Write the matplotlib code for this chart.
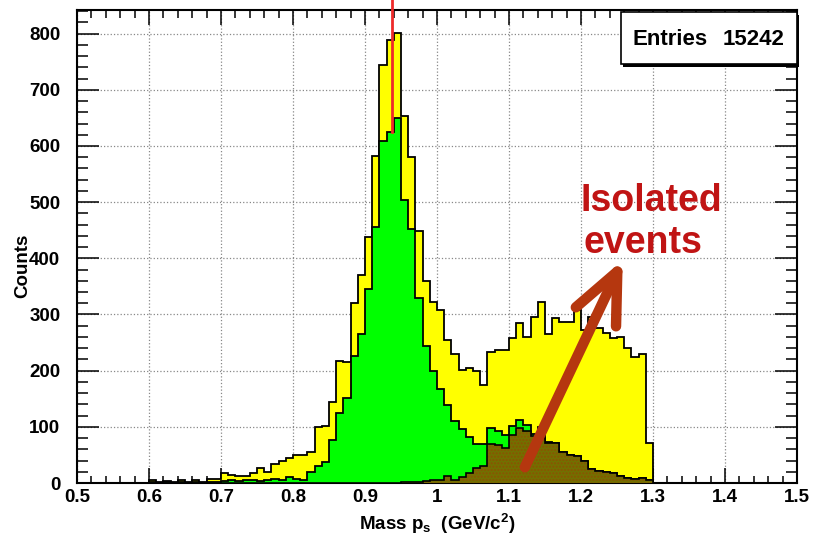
import matplotlib.pyplot as plt
import numpy as np
from matplotlib.patches import Rectangle
from matplotlib.ticker import MultipleLocator, FuncFormatter

plt.rcParams['font.family'] = ['Liberation Sans', 'DejaVu Sans']
plt.rcParams['font.weight'] = 'bold'
plt.rcParams['mathtext.fontset'] = 'custom'
plt.rcParams['mathtext.rm'] = 'Liberation Sans:bold'
plt.rcParams['mathtext.it'] = 'Liberation Sans:bold'
plt.rcParams['mathtext.bf'] = 'Liberation Sans:bold'

############   DATA   #############
# 0.01 GeV bins from 0.60 to 1.30 (everything outside is empty)
first_edge = 0.60
bin_width = 0.01

# all events
counts_all = [5, 2, 4, 2, 5, 1, 5, 2, 8, 8,
              17, 15, 12, 12, 18, 27, 19, 34, 40, 45,
              50, 49, 56, 100, 101, 144, 217, 215, 321, 370,
              438, 582, 744, 788, 802, 654, 580, 449, 359, 323,
              308, 255, 229, 201, 205, 199, 175, 234, 236, 237,
              258, 284, 260, 295, 322, 266, 294, 286, 287, 308,
              272, 296, 276, 267, 258, 260, 241, 224, 230, 71]

# selected events
counts_sel = [1, 0, 1, 0, 1, 0, 1, 0, 2, 2,
              3, 6, 4, 5, 5, 3, 6, 7, 6, 10,
              8, 6, 19, 30, 37, 76, 124, 152, 226, 266,
              346, 456, 609, 625, 649, 504, 453, 330, 244, 200,
              167, 138, 111, 96, 82, 70, 70, 98, 92, 85,
              102, 113, 104, 88, 100, 73, 71, 55, 49, 48,
              39, 25, 21, 19, 17, 13, 9, 7, 9, 5]

# isolated events
counts_iso = [0, 0, 0, 0, 0, 0, 0, 0, 0, 0,
              0, 0, 0, 0, 0, 0, 0, 0, 0, 0,
              0, 0, 0, 0, 0, 0, 0, 0, 0, 0,
              0, 0, 0, 0, 0, 1, 1, 2, 3, 5,
              6, 12, 6, 10, 18, 26, 30, 70, 68, 63,
              86, 98, 92, 84, 80, 71, 71, 55, 49, 48,
              39, 25, 21, 19, 17, 13, 9, 7, 9, 5]

proton_mass = 0.938
n_entries = 15242

edges = np.round(first_edge + bin_width * np.arange(len(counts_all) + 1), 2)

#--- figure ---
fig = plt.figure(figsize=(8.13, 5.39), dpi=100)
ax = fig.add_axes([77 / 813, 1 - 483 / 539, 720 / 813, 473 / 539])

ax.stairs(counts_all, edges, fill=True, color='#ffff00', zorder=2)
ax.stairs(counts_all, edges, color='black', lw=1.3, zorder=3)
ax.stairs(counts_sel, edges, fill=True, color='#00ff00', zorder=4)
ax.stairs(counts_sel, edges, color='black', lw=1.3, zorder=5)
ax.stairs(counts_iso, edges, fill=True, facecolor='#727000', edgecolor='#8c5200',
          hatch='.....', lw=0, zorder=6)
ax.stairs(counts_iso, edges, color='black', lw=1.2, zorder=7)

# proton mass marker, from the top of the selected peak up through the frame
ymax = 1.05 * max(counts_all)
i_p = int((proton_mass - first_edge) / bin_width)
ax.plot([proton_mass, proton_mass], [counts_sel[i_p], ymax * 1.022],
        color='#ee2a2a', lw=2, clip_on=False, zorder=8)

ax.set_xlim(0.5, 1.5)
ax.set_ylim(0, ymax)

ax.xaxis.set_major_locator(MultipleLocator(0.1))
ax.xaxis.set_minor_locator(MultipleLocator(0.02))
ax.yaxis.set_major_locator(MultipleLocator(100))
ax.yaxis.set_minor_locator(MultipleLocator(20))
ax.xaxis.set_major_formatter(FuncFormatter(lambda v, p: f"{v:g}"))

ax.tick_params(which='both', direction='in', top=True, right=True, width=1.1)
ax.tick_params(axis='x', which='major', length=10.8, pad=4, labelsize=13.5)
ax.tick_params(axis='x', which='minor', length=5.4)
ax.tick_params(axis='y', which='major', length=16, pad=12, labelsize=13.5)
ax.tick_params(axis='y', which='minor', length=8)

ax.grid(True, which='major', ls=':', color='#888888', lw=0.9)
ax.set_axisbelow(True)
for s in ax.spines.values():
    s.set_linewidth(1.5)

ax.set_xlabel(r"Mass p$_{s}$  (GeV/c$^{2}$)", fontsize=13.5, fontweight='bold')
ax.xaxis.set_label_coords(0.5, -0.062)
ax.set_ylabel("Counts", fontsize=13.5, fontweight='bold')
ax.yaxis.set_label_coords(-0.064, 0.46)

#--- stats box ---
ax.add_patch(Rectangle((0.7583, 0.880), 0.2444, 0.110, transform=ax.transAxes,
                       fc='black', ec='black', lw=0, zorder=9, clip_on=False))
ax.add_patch(Rectangle((0.7556, 0.886), 0.2444, 0.110, transform=ax.transAxes,
                       fc='white', ec='black', lw=1.2, zorder=10, clip_on=False))
ax.text(0.771, 0.937, "Entries", transform=ax.transAxes, fontsize=16,
        va='center', ha='left', zorder=11)
ax.text(0.983, 0.937, f"{n_entries}", transform=ax.transAxes, fontsize=16,
        va='center', ha='right', zorder=11)

#--- annotation ---
ax.annotate('', xy=(1.258, 397), xytext=(1.122, 28),
            arrowprops=dict(arrowstyle='->,head_length=1.8,head_width=0.8',
                            mutation_scale=20, color='#b5370f', lw=7.5,
                            capstyle='round', joinstyle='round',
                            shrinkA=0, shrinkB=0),
            zorder=12)
ax.text(1.199, 485, "Isolated", color='#c01414', fontsize=27,
        fontweight='bold', va='baseline', zorder=12)
ax.text(1.203, 410, "events", color='#c01414', fontsize=27,
        fontweight='bold', va='baseline', zorder=12)

fig.savefig("out.png", dpi=100)
